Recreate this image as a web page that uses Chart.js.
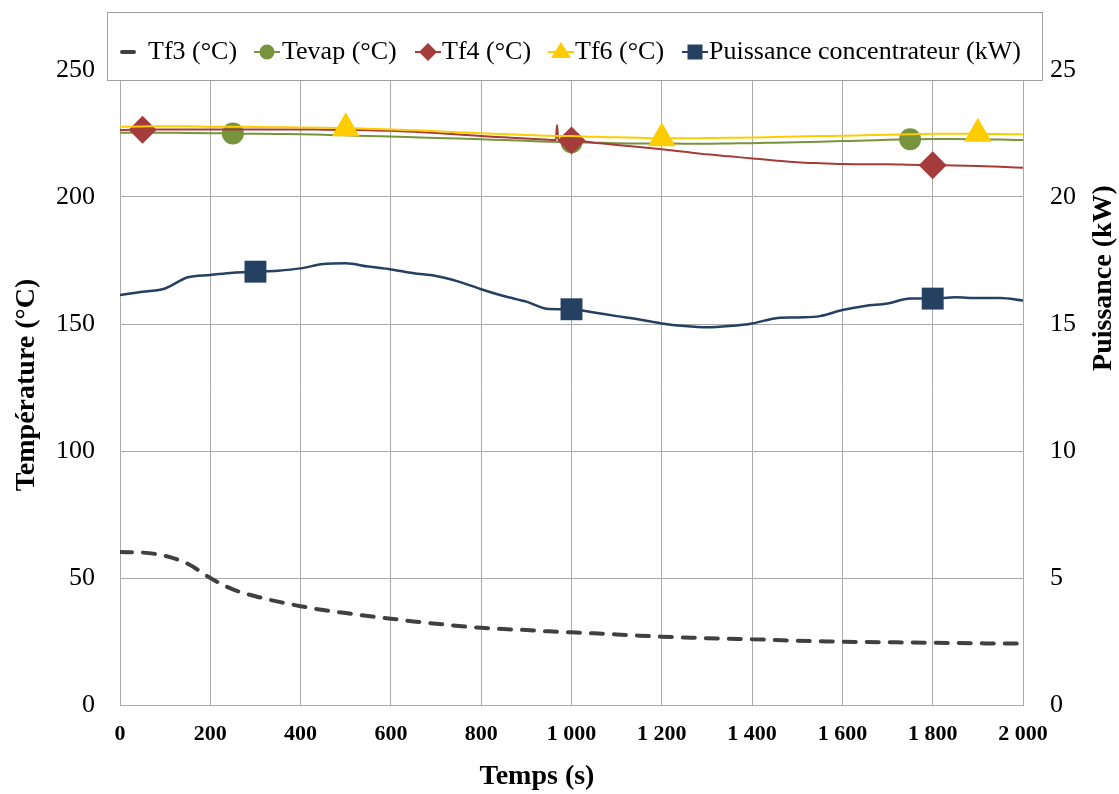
<!DOCTYPE html>
<html>
<head>
<meta charset="utf-8">
<script src="https://cdn.jsdelivr.net/npm/chart.js@4/dist/chart.umd.min.js"></script>
<style>
  html, body { margin: 0; padding: 0; background: #fff; }
  #wrap { width: 1119px; height: 794px; }
</style>
</head>
<body>
<div id="wrap"><canvas id="chart" width="1119" height="794"></canvas></div>
<script>
// Time axis (s)
const temps = [0, 50, 100, 150, 200, 250, 300, 350, 400, 450, 500, 550, 600, 650, 700, 750, 800, 850, 900, 950,
    1000, 1050, 1100, 1150, 1200, 1250, 1300, 1350, 1400, 1450, 1500, 1550, 1600, 1650, 1700, 1750, 1800, 1850, 1900, 1950, 2000];

// Tf4 has a short spike just before 1000 s
const tempsTf4 = [0, 50, 100, 150, 200, 250, 300, 350, 400, 450, 500, 550, 600, 650, 700, 750, 800, 850, 900, 950,
    965, 968, 971, 1000, 1050, 1100, 1150, 1200, 1250, 1300, 1350, 1400, 1450, 1500, 1550, 1600, 1650, 1700, 1750, 1800, 1850, 1900, 1950, 2000];

const tf3 = [60.2, 60.0, 58.7, 55.6, 50.0, 45.5, 42.8, 40.7, 38.9, 37.4, 36.2, 35.0, 34.0, 32.9, 32.0, 31.1, 30.4, 29.9, 29.5, 29.0,
    28.6, 28.2, 27.8, 27.3, 26.9, 26.6, 26.3, 26.1, 25.9, 25.6, 25.3, 25.1, 24.9, 24.8, 24.7, 24.6, 24.5, 24.4, 24.3, 24.2, 24.2];

const tevap = [225.3, 225.4, 225.3, 225.2, 225.1, 225.0, 224.9, 224.8, 224.7, 224.5, 224.3, 224.0, 223.8, 223.5, 223.2, 223.0, 222.7, 222.4, 222.1, 221.8,
    221.6, 221.4, 221.2, 221.1, 221.1, 221.0, 221.0, 221.1, 221.2, 221.4, 221.6, 221.8, 222.0, 222.2, 222.5, 222.7, 222.8, 222.8, 222.7, 222.6, 222.4];

const tf4 = [226.4, 226.5, 226.6, 226.6, 226.6, 226.6, 226.6, 226.6, 226.6, 226.5, 226.4, 226.3, 226.1, 225.7, 225.2, 224.6, 224.0, 223.5, 223.0, 222.5,
    222.4, 228.3, 222.4, 222.2, 221.4, 220.5, 219.7, 218.8, 217.8, 216.8, 216.0, 215.2, 214.4, 213.7, 213.3, 213.0, 212.9, 212.9, 212.7, 212.5, 212.4, 212.2, 211.9, 211.5];

const tf6 = [227.7, 227.8, 227.9, 227.9, 227.7, 227.7, 227.6, 227.5, 227.4, 227.3, 227.1, 226.9, 226.6, 226.3, 225.9, 225.5, 225.1, 224.8, 224.4, 224.1,
    224.0, 223.7, 223.5, 223.3, 223.1, 223.1, 223.2, 223.3, 223.4, 223.6, 223.8, 224.0, 224.1, 224.3, 224.5, 224.7, 224.9, 224.9, 224.9, 224.8, 224.7];

// Puissance concentrateur (kW), right axis
const puissance = [16.14, 16.27, 16.40, 16.84, 16.93, 17.02, 17.06, 17.10, 17.19, 17.36, 17.39, 17.26, 17.15, 17.00, 16.89, 16.67, 16.37, 16.10, 15.88, 15.59,
    15.58, 15.45, 15.31, 15.18, 15.02, 14.92, 14.87, 14.92, 15.02, 15.22, 15.26, 15.31, 15.55, 15.71, 15.81, 16.00, 16.00, 16.05, 16.02, 16.02, 15.92];

// Times where Excel put a marker on each series
const markTevap = [250, 1000, 1750];
const markTf4 = [50, 1000, 1800];
const markTf6 = [500, 1200, 1900];
const markPuissance = [300, 1000, 1800];

const xTicks = [0, 200, 400, 600, 800, 1000, 1200, 1400, 1600, 1800, 2000];

const FONT = '"Liberation Serif", "Times New Roman", serif';
const C_TF3 = '#404040';
const C_TEVAP = '#77933C';
const C_TF4 = '#A33C3A';
const C_TF6 = '#FFCC00';
const C_PUI = '#254061';
const GRID = '#ABABAB';

function toPoints(xs, ys) {
    return xs.map((x, i) => ({ x: x, y: ys[i] }));
}

function fmtMilliers(v) {
    return v >= 1000 ? Math.floor(v / 1000) + ' ' + String(v % 1000).padStart(3, '0') : String(v);
}

function markerRadius(times, r) {
    return ctx => (ctx.raw && times.includes(ctx.raw.x)) ? r : 0;
}

const legendItems = [
    { label: 'Tf3 (°C)', color: C_TF3, style: 'dash', cx: 128, tx: 148 },
    { label: 'Tevap (°C)', color: C_TEVAP, style: 'circle', cx: 267, tx: 282 },
    { label: 'Tf4 (°C)', color: C_TF4, style: 'diamond', cx: 428, tx: 442 },
    { label: 'Tf6 (°C)', color: C_TF6, style: 'triangle', cx: 561, tx: 575 },
    { label: 'Puissance concentrateur (kW)', color: C_PUI, style: 'square', cx: 695, tx: 709 }
];

// legend box drawn over the top of the plot, like the Excel one
const excelLegend = {
    id: 'excelLegend',
    afterDraw(chart) {
        const ctx = chart.ctx;
        ctx.save();
        ctx.fillStyle = '#fff';
        ctx.fillRect(107, 12, 935, 68);
        ctx.strokeStyle = '#A0A0A0';
        ctx.lineWidth = 1;
        ctx.strokeRect(107.5, 12.5, 935, 68);

        const y = 52;
        legendItems.forEach(it => {
            ctx.strokeStyle = it.color;
            ctx.fillStyle = it.color;
            if (it.style === 'dash') {
                ctx.lineWidth = 4;
                ctx.lineCap = 'round';
                ctx.beginPath();
                ctx.moveTo(it.cx - 6, y);
                ctx.lineTo(it.cx + 6, y);
                ctx.stroke();
            } else {
                ctx.lineWidth = 2;
                ctx.lineCap = 'butt';
                ctx.beginPath();
                ctx.moveTo(it.cx - 13, y);
                ctx.lineTo(it.cx + 13, y);
                ctx.stroke();
                ctx.beginPath();
                if (it.style === 'circle') {
                    ctx.arc(it.cx, y, 7.5, 0, Math.PI * 2);
                } else if (it.style === 'diamond') {
                    ctx.moveTo(it.cx, y - 9);
                    ctx.lineTo(it.cx + 9, y);
                    ctx.lineTo(it.cx, y + 9);
                    ctx.lineTo(it.cx - 9, y);
                } else if (it.style === 'triangle') {
                    ctx.moveTo(it.cx, y - 10);
                    ctx.lineTo(it.cx + 10, y + 6);
                    ctx.lineTo(it.cx - 10, y + 6);
                } else {
                    ctx.rect(it.cx - 7.5, y - 7.5, 15, 15);
                }
                ctx.closePath();
                ctx.fill();
            }
            ctx.fillStyle = '#000';
            ctx.font = '26px ' + FONT;
            ctx.textBaseline = 'middle';
            ctx.textAlign = 'left';
            ctx.fillText(it.label, it.tx, y);
        });

        // axis titles
        ctx.fillStyle = '#000';
        ctx.font = 'bold 28px ' + FONT;
        ctx.textAlign = 'center';
        ctx.textBaseline = 'middle';
        ctx.fillText('Temps (s)', 537, 777);

        ctx.save();
        ctx.translate(27, 385);
        ctx.rotate(-Math.PI / 2);
        ctx.fillText('Température (°C)', 0, 0);
        ctx.restore();

        ctx.save();
        ctx.translate(1104, 278);
        ctx.rotate(-Math.PI / 2);
        ctx.fillText('Puissance (kW)', 0, 0);
        ctx.restore();

        ctx.restore();
    }
};

const ctx = document.getElementById('chart').getContext('2d');
new Chart(ctx, {
    type: 'line',
    data: {
        datasets: [
            {
                label: 'Tf3 (°C)',
                data: toPoints(temps, tf3),
                borderColor: C_TF3,
                borderWidth: 4,
                borderDash: [12, 11],
                borderCapStyle: 'round',
                pointRadius: 0,
                yAxisID: 'y',
                order: 5
            },
            {
                label: 'Tevap (°C)',
                data: toPoints(temps, tevap),
                borderColor: C_TEVAP,
                backgroundColor: C_TEVAP,
                borderWidth: 2,
                pointStyle: 'circle',
                pointRadius: markerRadius(markTevap, 11),
                pointBorderWidth: 0,
                yAxisID: 'y',
                order: 4
            },
            {
                label: 'Tf4 (°C)',
                data: toPoints(tempsTf4, tf4),
                borderColor: C_TF4,
                backgroundColor: C_TF4,
                borderWidth: 2,
                pointStyle: 'rectRot',
                pointRadius: markerRadius(markTf4, 14),
                pointBorderWidth: 0,
                yAxisID: 'y',
                order: 3
            },
            {
                label: 'Tf6 (°C)',
                data: toPoints(temps, tf6),
                borderColor: C_TF6,
                backgroundColor: C_TF6,
                borderWidth: 2,
                pointStyle: 'triangle',
                pointRadius: markerRadius(markTf6, 16),
                pointBorderWidth: 0,
                yAxisID: 'y',
                order: 2
            },
            {
                label: 'Puissance concentrateur (kW)',
                data: toPoints(temps, puissance),
                borderColor: C_PUI,
                backgroundColor: C_PUI,
                borderWidth: 2.5,
                pointStyle: 'rect',
                pointRadius: markerRadius(markPuissance, 15.5),
                pointBorderWidth: 0,
                yAxisID: 'y2',
                order: 1
            }
        ]
    },
    options: {
        responsive: false,
        animation: false,
        cubicInterpolationMode: 'monotone',
        layout: { padding: { top: 70, left: 0, right: 0, bottom: 0 } },
        plugins: {
            legend: { display: false },
            tooltip: { enabled: false }
        },
        scales: {
            x: {
                type: 'linear',
                min: 0,
                max: 2000,
                afterBuildTicks: s => { s.ticks = xTicks.map(v => ({ value: v })); },
                afterFit: s => { s.height = 89; },
                grid: { color: GRID, drawTicks: false },
                border: { color: GRID },
                ticks: {
                    padding: 16,
                    color: '#000',
                    font: { family: FONT, size: 22, weight: 'bold' },
                    maxRotation: 0,
                    callback: v => fmtMilliers(v)
                }
            },
            y: {
                position: 'left',
                min: 0,
                max: 250,
                afterFit: s => { s.width = 120; },
                grid: { color: GRID, drawTicks: false },
                border: { color: GRID },
                ticks: {
                    stepSize: 50,
                    padding: 25,
                    color: '#000',
                    font: { family: FONT, size: 26 }
                }
            },
            y2: {
                position: 'right',
                min: 0,
                max: 25,
                afterFit: s => { s.width = 96; },
                grid: { display: false, drawTicks: false },
                border: { display: false },
                ticks: {
                    stepSize: 5,
                    padding: 27,
                    color: '#000',
                    font: { family: FONT, size: 26 }
                }
            }
        }
    },
    plugins: [excelLegend]
});
</script>
</body>
</html>
